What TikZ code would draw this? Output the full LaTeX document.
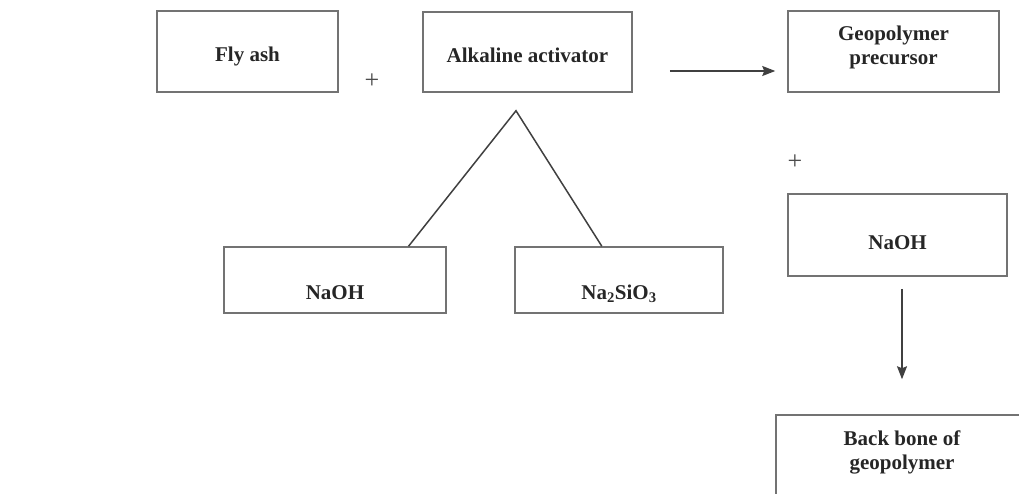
\documentclass[tikz,border=0pt]{standalone}
\usepackage{fontspec}
\setmainfont{Liberation Serif}
\usetikzlibrary{calc, arrows.meta}

\begin{document}
\begin{tikzpicture}[x=1pt, y=-1pt,
  every node/.style={font=\fontsize{21}{24}\selectfont\bfseries, text=black!85},
  box/.style={draw=black!55, line width=1.5pt, align=center, inner sep=0pt},
  link/.style={black!75, line width=1.5pt},
  flow/.style={link, -{Stealth[length=13pt, width=10pt, inset=2pt]}},
  plus/.style={font=\fontsize{26}{26}\selectfont\mdseries, text=black!70}]

\useasboundingbox (0,0) rectangle (1019,494);
\clip (0,0) rectangle (1019,494);

% ------------------------------------------------------------------
% TOP ROW: reactants and precursor
% ------------------------------------------------------------------
\node[box, minimum width=181pt, minimum height=81pt, text height=24pt, text depth=3pt]
  (fly) at (247.5,51.5) {Fly ash};
\node[box, minimum width=209pt, minimum height=80pt, text height=24pt, text depth=3pt]
  (alk) at (527.5,52) {Alkaline activator};
\node[box, minimum width=211pt, minimum height=81pt]
  (geo) at (893.5,51.5) {Geopolymer\\precursor\rule[-12.5pt]{0pt}{0pt}};

\node[plus] (plusA) at (372,81) {+};

% ------------------------------------------------------------------
% ACTIVATOR COMPONENTS
% ------------------------------------------------------------------
\node[box, minimum width=222pt, minimum height=66pt, text height=40pt, text depth=2pt]
  (naohA) at (335,280) {NaOH};
\node[box, minimum width=208pt, minimum height=66pt, text height=40pt, text depth=2pt]
  (nasi) at (619,280) {Na\textsubscript{2}SiO\textsubscript{3}};

\coordinate (split) at ($(alk.south)+(-11.5,18)$);
\draw[link] ($(naohA.north west)!0.829!(naohA.north east)$)
  -- (split)
  -- ($(nasi.north west)!0.418!(nasi.north east)$);

% ------------------------------------------------------------------
% RIGHT COLUMN
% ------------------------------------------------------------------
\node[plus] (plusB) at (795,162) {+};

\node[box, minimum width=219pt, minimum height=82pt, text height=30pt, text depth=2pt]
  (naohB) at (897.5,235) {NaOH};
\node[box, minimum width=252pt, minimum height=82pt]
  (bone) at (902,456) {Back bone of\\geopolymer\rule[-12.5pt]{0pt}{0pt}};

% arrows
\draw[flow] ($(alk.east)+(37,19)$) -- ($(geo.west)+(-12,19.5)$);
\draw[flow] ($(naohB.south)+(4.5,12)$) -- ($(bone.north)+(0,-35)$);

\end{tikzpicture}
\end{document}
